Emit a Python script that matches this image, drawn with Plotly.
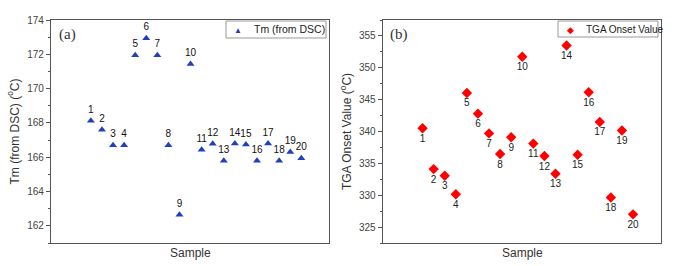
import plotly.graph_objects as go

samples = list(range(1, 21))
sample_labels = [str(s) for s in samples]
tm_dsc = [168.13, 167.6, 166.7, 166.7, 171.95, 172.93, 171.95, 166.7, 162.64, 171.44,
          166.43, 166.79, 165.8, 166.8, 166.74, 165.8, 166.8, 165.8, 166.31, 165.94]
tga_onset = [340.5, 334.1, 333.05, 330.15, 346.05, 342.8, 339.7, 336.46, 339.1, 351.73,
             338.1, 336.15, 333.36, 353.5, 336.35, 346.16, 341.5, 329.65, 340.15, 327.0]

W, H = 680, 266
def px_x(v): return v / W
def px_y(v): return 1 - v / H

fig = go.Figure()
fig.add_trace(go.Scatter(
    x=samples, y=tm_dsc, mode="markers+text", text=sample_labels,
    textposition="top center", textfont=dict(size=10, color="#111", family="Liberation Sans"),
    marker=dict(symbol="triangle-up", size=7, color="#1f3fbf"),
    name="Tm (from DSC)", xaxis="x", yaxis="y", showlegend=False))
fig.add_trace(go.Scatter(
    x=samples, y=tga_onset, mode="markers+text", text=sample_labels,
    textposition="bottom center", textfont=dict(size=10, color="#222", family="Liberation Sans"),
    marker=dict(symbol="diamond", size=8, color="#ff0000"),
    name="TGA Onset Value", xaxis="x2", yaxis="y2", showlegend=False))

axis_common = dict(showline=True, linecolor="#555", linewidth=1.2, mirror=True,
                   showgrid=False, zeroline=False, automargin=False,
                   tickfont=dict(family="Liberation Sans", size=10, color="#444"),
                   title_font=dict(family="Liberation Sans", size=12, color="#333"))

ydom = [px_y(243), px_y(20)]
fig.update_layout(
    width=W, height=H, margin=dict(l=0, r=0, t=0, b=0),
    plot_bgcolor="white", paper_bgcolor="white", showlegend=False,
    xaxis=dict(domain=[px_x(51), px_x(329)], range=[-2.6, 22.5], showticklabels=False,
               ticks="", anchor="y", **axis_common),
    yaxis=dict(domain=ydom, range=[161, 174], tickvals=[162, 164, 166, 168, 170, 172, 174],
               ticks="outside", ticklen=4, tickcolor="#555",
               minor=dict(ticks="outside", ticklen=2, dtick=1, tickcolor="#555"),
               title=dict(text="Tm (from DSC) (<sup>o</sup>C)", standoff=5), anchor="x", **axis_common),
    xaxis2=dict(domain=[px_x(382.7), px_x(660.7)], range=[-2.6, 22.5], showticklabels=False,
                ticks="", anchor="y2", **axis_common),
    yaxis2=dict(domain=ydom, range=[322.5, 357.5], tickvals=[325, 330, 335, 340, 345, 350, 355],
                ticks="outside", ticklen=4, tickcolor="#555",
                minor=dict(ticks="outside", ticklen=2, dtick=2.5, tickcolor="#555"),
                title=dict(text="TGA Onset Value (<sup>o</sup>C)", standoff=4), anchor="x2", **axis_common),
)

# x-axis titles
for xc in (190, 522):
    fig.add_annotation(text="Sample", x=px_x(xc), y=px_y(253), xref="paper", yref="paper",
                       xanchor="center", yanchor="middle", showarrow=False,
                       font=dict(family="Liberation Sans", size=12, color="#333"))

# panel letters
fig.add_annotation(text="(a)", x=px_x(57), y=px_y(35), xref="paper", yref="paper",
                   xanchor="left", yanchor="middle", showarrow=False,
                   font=dict(family="Liberation Serif", size=15, color="#333"))
fig.add_annotation(text="(b)", x=px_x(388), y=px_y(35), xref="paper", yref="paper",
                   xanchor="left", yanchor="middle", showarrow=False,
                   font=dict(family="Liberation Serif", size=15, color="#333"))

# legend boxes
fig.add_shape(type="rect", xref="paper", yref="paper",
              x0=px_x(226), x1=px_x(326), y0=px_y(38), y1=px_y(21),
              line=dict(color="#999", width=1), fillcolor="white", layer="below")
fig.add_shape(type="rect", xref="paper", yref="paper",
              x0=px_x(558), x1=px_x(658), y0=px_y(37), y1=px_y(21),
              line=dict(color="#999", width=1), fillcolor="white", layer="below")
fig.add_annotation(text="Tm (from DSC)", x=px_x(252), y=px_y(29.5), xref="paper", yref="paper",
                   xanchor="left", yanchor="middle", showarrow=False,
                   font=dict(family="Liberation Sans", size=10.5, color="#222"))
fig.add_annotation(text="TGA Onset Value", x=px_x(584), y=px_y(29), xref="paper", yref="paper",
                   xanchor="left", yanchor="middle", showarrow=False,
                   font=dict(family="Liberation Sans", size=10, color="#222"))
fig.add_annotation(text="▲", x=px_x(238), y=px_y(29.5), xref="paper", yref="paper",
                   xanchor="center", yanchor="middle", showarrow=False,
                   font=dict(size=8, color="#1f3fbf"))
fig.add_annotation(text="◆", x=px_x(570), y=px_y(29), xref="paper", yref="paper",
                   xanchor="center", yanchor="middle", showarrow=False,
                   font=dict(size=9, color="#ff0000"))

fig.write_html("out.html", config={"displayModeBar": False},
               post_script="document.body.style.margin='0';")
